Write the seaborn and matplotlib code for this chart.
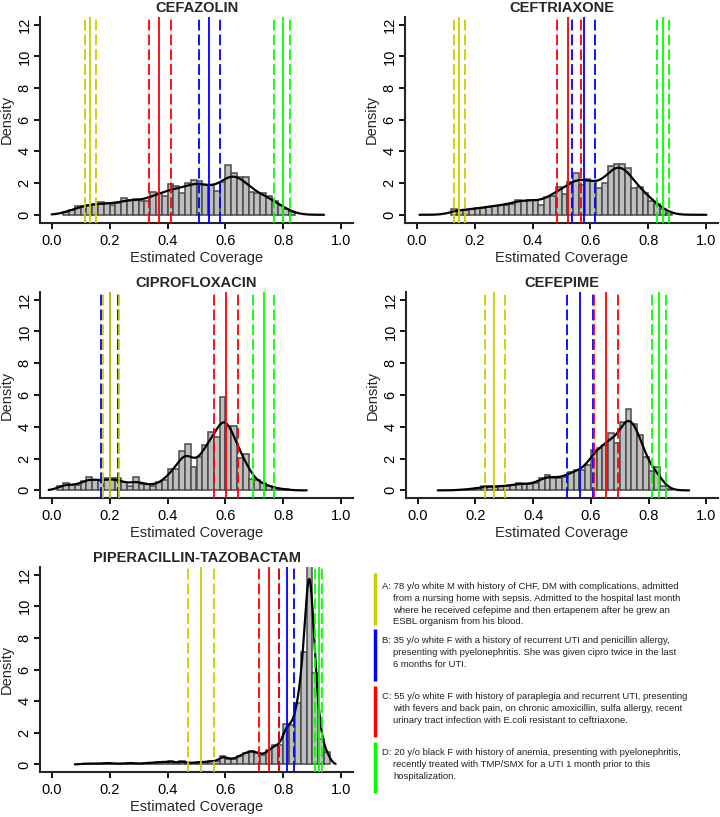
import numpy as np
import pandas as pd
import matplotlib
matplotlib.use("Agg")
import matplotlib.pyplot as plt
import seaborn as sns

# ---- data ----
drugs = ["CEFAZOLIN", "CEFTRIAXONE", "CIPROFLOXACIN", "CEFEPIME", "PIPERACILLIN-TAZOBACTAM"]
bin_width = 0.02

# density of each 0.02 bin, starting at first_bin
first_bin = [0.04, 0.12, 0.02, 0.14, 0.10]
cefazolin = [0.18, 0.3, 0.57, 0.53, 0.63, 0.7, 0.78, 0.74, 0.63, 0.74,
             1.05, 0.95, 1.0, 0.84, 0.9, 1.45, 1.37, 1.2, 1.95, 1.8,
             1.4, 2.0, 2.2, 2.15, 1.87, 1.9, 1.47, 2.05, 3.15, 2.63,
             2.4, 2.36, 1.41, 1.37, 1.37, 1.16, 0.84, 0.63, 0.36, 0.15]
ceftriaxone = [0.35, 0.3, 0.3, 0.35, 0.4, 0.45, 0.5, 0.55, 0.6, 0.6,
               0.7, 0.95, 0.85, 0.95, 0.95, 0.6, 1.15, 1.2, 1.75, 1.33,
               2.04, 2.63, 1.9, 2.27, 2.1, 1.66, 2.0, 3.1, 3.2, 3.2,
               2.95, 1.7, 1.75, 1.4, 0.85, 0.7, 0.35, 0.1]
ciprofloxacin = [0.3, 0.48, 0.32, 0.32, 0.6, 0.85, 0.68, 0.6, 0.75, 0.75,
                 0.75, 0.5, 0.3, 0.85, 0.4, 0.4, 0.3, 0.5, 0.63, 1.33,
                 1.37, 2.48, 2.9, 1.47, 2.1, 2.84, 3.7, 3.37, 5.9, 4.06,
                 4.06, 2.04, 2.27, 0.74, 0.63, 0.48, 0.25, 0.17, 0.1, 0.06]
cefepime = [0.05, 0.05, 0.1, 0.15, 0.25, 0.25, 0.2, 0.3, 0.25, 0.35,
            0.45, 0.4, 0.4, 0.45, 0.75, 0.95, 0.8, 0.8, 0.85, 1.15,
            1.26, 1.3, 1.62, 2.57, 2.67, 2.84, 3.6, 2.95, 4.3, 5.1,
            4.2, 3.5, 2.1, 1.22, 1.47, 0.3, 0.1]
pip_tazo = [0.05, 0.05, 0.05, 0.05, 0.1, 0.05, 0.05, 0.05, 0.1, 0.05,
            0.05, 0.1, 0.1, 0.15, 0.15, 0.2, 0.1, 0.2, 0.1, 0.1,
            0.15, 0.15, 0.2, 0.2, 0.55, 0.35, 0.35, 0.55, 0.75, 0.85,
            0.75, 0.6, 0.9, 1.2, 1.25, 2.55, 2.5, 3.9, 7.1, 15.0,
            5.8, 1.6, 0.8]
heights = [cefazolin, ceftriaxone, ciprofloxacin, cefepime, pip_tazo]

# range covered by the density curve
curve_range = [(0.0, 0.94), (0.01, 1.0), (-0.01, 0.88), (0.07, 0.94), (0.08, 0.98)]
curve_bw = [0.032, 0.03, 0.022, 0.022, 0.012]

# patient estimates: (lower, estimate, upper) per drug
patient_a = [(0.115, 0.132, 0.152), (0.129, 0.145, 0.167), (0.176, 0.201, 0.232),
             (0.233, 0.265, 0.304), (0.471, 0.516, 0.562)]
patient_b = [(0.507, 0.544, 0.582), (0.537, 0.577, 0.615), (0.172, 0.200, 0.229),
             (0.517, 0.563, 0.609), (0.786, 0.813, 0.838)]
patient_c = [(0.337, 0.372, 0.411), (0.486, 0.524, 0.566), (0.559, 0.602, 0.644),
             (0.612, 0.654, 0.695), (0.717, 0.751, 0.785)]
patient_d = [(0.769, 0.797, 0.822), (0.828, 0.849, 0.870), (0.695, 0.734, 0.767),
             (0.810, 0.835, 0.861), (0.909, 0.922, 0.934)]
patients = [patient_a, patient_b, patient_c, patient_d]
patient_colors = ["#CDCD00", "#0000FF", "#FF0000", "#00FF00"]
draw_order = [1, 0, 2, 3]

legend_text = [
    ["A: 78 y/o white M with history of CHF, DM with complications, admitted",
     "from a nursing home with sepsis. Admitted to the hospital last month",
     "where he received cefepime and then ertapenem after he grew an",
     "ESBL organism from his blood."],
    ["B: 35 y/o white F with a history of recurrent UTI and penicillin allergy,",
     "presenting with pyelonephritis. She was given cipro twice in the last",
     "6 months for UTI."],
    ["C: 55 y/o white F with history of paraplegia and recurrent UTI, presenting",
     "with fevers and back pain, on chronic amoxicillin, sulfa allergy, recent",
     "urinary tract infection with E.coli resistant to ceftriaxone."],
    ["D: 20 y/o black F with history of anemia, presenting with pyelonephritis,",
     "recently treated with TMP/SMX for a UTI 1 month prior to this",
     "hospitalization."],
]

# ---- style ----
sns.set_style("ticks")
plt.rcParams['font.family'] = ['Liberation Sans', 'DejaVu Sans']
plt.rcParams['axes.linewidth'] = 1.5

W, H = 720, 817
fig = plt.figure(figsize=(W / 100, H / 100), dpi=100)

# panel boxes in pixels: left, top, right, bottom
boxes = [(40, 16.7, 353, 222.7), (405, 16.7, 718, 222.7),
         (40, 291.7, 353, 498.3), (406, 291.7, 718, 498.3),
         (40, 566.7, 353, 772.3)]

for i, drug in enumerate(drugs):
    l, t, r, b = boxes[i]
    ax = fig.add_axes([l / W, 1 - b / H, (r - l) / W, (b - t) / H])
    h = np.array(heights[i])
    centers = first_bin[i] + bin_width * (np.arange(len(h)) + 0.5)
    df = pd.DataFrame({"coverage": centers, "density": h})

    sns.histplot(data=df, x="coverage", weights="density", binwidth=bin_width,
                 binrange=(first_bin[i], first_bin[i] + bin_width * len(h)),
                 stat="count", ax=ax, color="#BEBEBE", edgecolor="#4A4A4A",
                 linewidth=1.1, alpha=1)

    mean = np.average(centers, weights=h)
    sd = np.sqrt(np.average((centers - mean) ** 2, weights=h))
    sns.kdeplot(data=df, x="coverage", weights="density", bw_method=curve_bw[i] / sd,
                cut=20, clip=curve_range[i], gridsize=400, ax=ax,
                color="black", linewidth=1.6)

    for p in draw_order:
        lo, est, hi = patients[p][i]
        col = patient_colors[p]
        ax.axvline(est, color=col, linewidth=1.3, zorder=5)
        for v in (lo, hi):
            ax.axvline(v, color=col, linewidth=1.3, linestyle=(0, (6, 2.2)), zorder=5)

    ax.set_xlim(-0.04, 1.04)
    ax.set_ylim(-0.5, 12.5)
    ax.set_xticks(np.arange(0, 1.01, 0.2))
    ax.set_xticklabels([f"{v:.1f}" for v in np.arange(0, 1.01, 0.2)])
    ax.set_yticks(range(0, 13, 2))
    ax.set_yticklabels([str(v) for v in range(0, 13, 2)], rotation=90, va="center")
    ax.tick_params(direction="out", length=4.5, width=1.3, labelsize=10.5,
                   colors="black")
    ax.tick_params(axis="x", pad=3.5)
    ax.tick_params(axis="y", pad=1.5)
    ax.set_xlabel("Estimated Coverage", fontsize=10.5, labelpad=2)
    ax.set_ylabel("Density", fontsize=10.5, labelpad=3)
    ax.set_title(drug, fontsize=10.5, fontweight="bold", pad=3.5)
    sns.despine(ax=ax)

# ---- patient legend ----
leg = fig.add_axes([360 / W, 0, 360 / W, 277 / H])
leg.set_xlim(360, 720)
leg.set_ylim(817, 540)
leg.axis("off")
bar_spans = [(573, 625), (629, 681), (686, 737), (742, 793)]
first_line = [586.7, 640.7, 696.7, 752.7]
line_gap = 11.7
for col, (y0, y1), lines, ly in zip(patient_colors, bar_spans, legend_text, first_line):
    leg.plot([375, 375], [y0, y1], color=col, linewidth=2.5, solid_capstyle="butt")
    for k, txt in enumerate(lines):
        x = 381.7 if k == 0 else 393.3
        leg.text(x, ly + k * line_gap, txt, fontsize=6.8, va="center", ha="left",
                 color="#222222")

fig.savefig("out.png", dpi=100)
